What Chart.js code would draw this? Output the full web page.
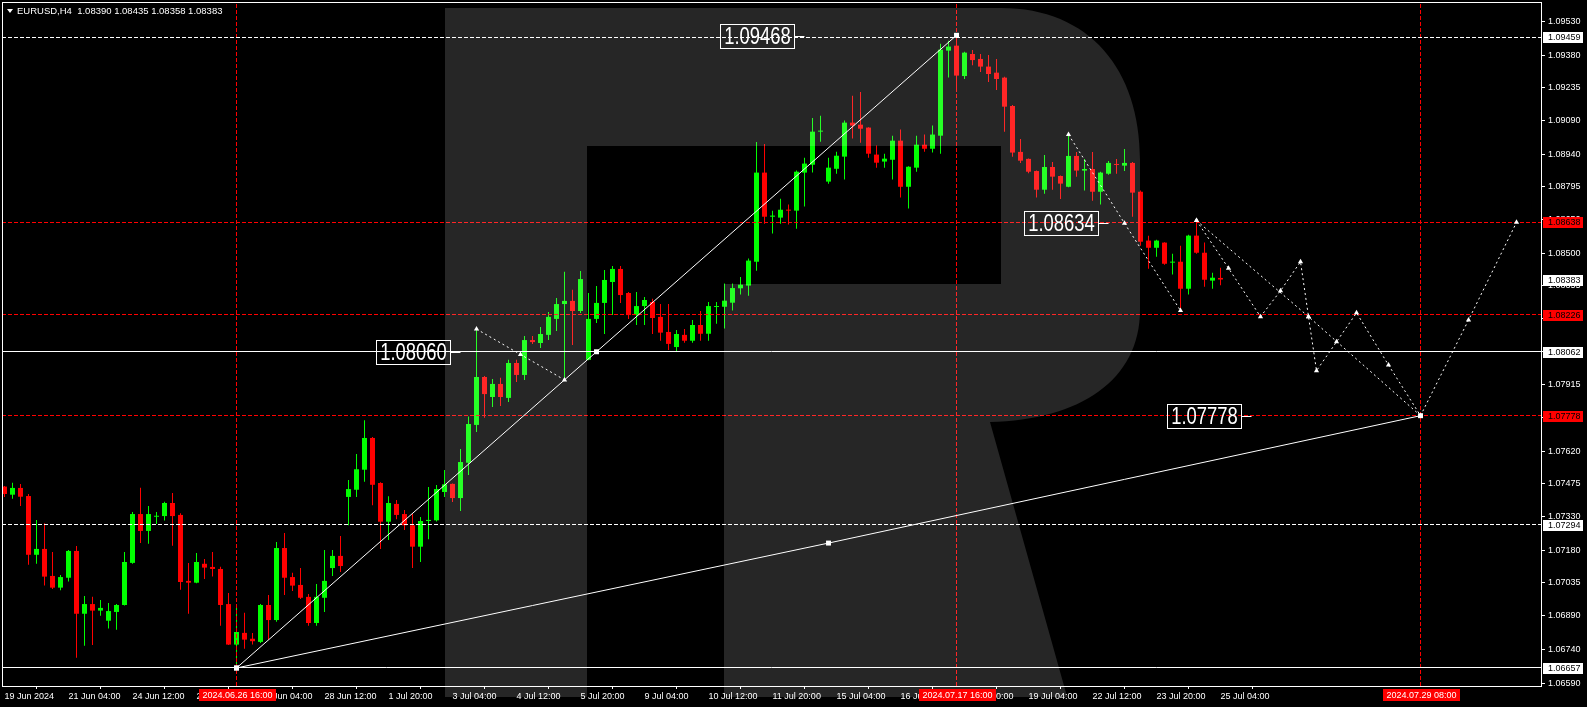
<!DOCTYPE html>
<html>
<head>
<meta charset="utf-8">
<script src="https://cdn.jsdelivr.net/npm/chart.js@4.4.0/dist/chart.umd.min.js"></script>
<style>
  html, body { margin: 0; padding: 0; background: #000; overflow: hidden; }
  #wrap { width: 1587px; height: 707px; }
</style>
</head>
<body>
<div id="wrap"><canvas id="eurusd" width="1587" height="707"></canvas></div>
<script>
// EURUSD H4 candles, index 0 = 19 Jun 20:00
const opens = [1.07463,1.07427,1.07457,1.07421,1.07160,1.07186,1.07066,1.07014,1.07058,1.07177,
  1.06898,1.06941,1.06912,1.06867,1.06906,1.06937,1.07124,1.07341,1.07266,1.07329,
  1.07332,1.07390,1.07337,1.07044,1.07036,1.07120,1.07106,1.07097,1.06941,1.06761,
  1.06813,1.06787,1.06773,1.06937,1.06870,1.07190,1.07061,1.07026,1.06973,1.06857,
  1.06969,1.07101,1.07155,1.07417,1.07449,1.07538,1.07679,1.07479,1.07307,1.07386,
  1.07341,1.07291,1.07196,1.07310,1.07313,1.07439,1.07475,1.07412,1.07569,1.07737,
  1.07950,1.07861,1.07919,1.07857,1.08012,1.07959,1.08114,1.08101,1.08137,1.08208,
  1.08274,1.08288,1.08243,1.08026,1.08208,1.08279,1.08372,1.08430,1.08323,1.08225,
  1.08265,1.08283,1.08217,1.08150,1.08083,1.08137,1.08111,1.08181,1.08142,1.08261,
  1.08262,1.08280,1.08344,1.08356,1.08462,1.08858,1.08662,1.08658,1.08693,1.08689,
  1.08858,1.08893,1.09040,1.08818,1.08875,1.08929,1.09080,1.09071,1.09058,1.08938,
  1.08907,1.08915,1.09000,1.08795,1.08880,1.08982,1.08964,1.09022,1.09400,1.09422,
  1.09287,1.09385,1.09363,1.09329,1.09302,1.09280,1.09154,1.08950,1.08919,1.08865,
  1.08782,1.08883,1.08843,1.08795,1.08932,1.08867,1.08874,1.08773,1.08853,1.08896,
  1.08889,1.08901,1.08773,1.08556,1.08524,1.08547,1.08458,1.08462,1.08342,1.08578,
  1.08502,1.08378,1.08390];
const highs = [1.07466,1.07480,1.07475,1.07430,1.07315,1.07300,1.07172,1.07070,1.07181,1.07199,
  1.06977,1.06973,1.06959,1.06946,1.06941,1.07172,1.07350,1.07458,1.07377,1.07350,
  1.07396,1.07435,1.07344,1.07124,1.07168,1.07141,1.07172,1.07107,1.06990,1.06934,
  1.06903,1.06813,1.06941,1.06981,1.07217,1.07257,1.07080,1.07101,1.06986,1.07030,
  1.07181,1.07181,1.07244,1.07492,1.07608,1.07758,1.07683,1.07482,1.07420,1.07403,
  1.07359,1.07341,1.07328,1.07461,1.07470,1.07537,1.07477,1.07630,1.07774,1.08163,
  1.07954,1.07941,1.07946,1.08026,1.08026,1.08132,1.08132,1.08172,1.08239,1.08301,
  1.08417,1.08337,1.08421,1.08323,1.08354,1.08425,1.08443,1.08443,1.08328,1.08328,
  1.08305,1.08297,1.08274,1.08274,1.08159,1.08163,1.08203,1.08243,1.08283,1.08283,
  1.08365,1.08365,1.08394,1.08476,1.08994,1.08985,1.08689,1.08742,1.08716,1.08867,
  1.08924,1.09101,1.09111,1.08924,1.08951,1.09089,1.09200,1.09216,1.09060,1.08978,
  1.08942,1.09022,1.09049,1.08886,1.09022,1.09027,1.09067,1.09431,1.09444,1.09468,
  1.09395,1.09403,1.09385,1.09381,1.09363,1.09284,1.09158,1.09007,1.08921,1.08867,
  1.08936,1.08905,1.08845,1.09027,1.08950,1.08919,1.08950,1.08862,1.08910,1.08919,
  1.08963,1.08905,1.08778,1.08578,1.08560,1.08549,1.08498,1.08533,1.08582,1.08645,
  1.08547,1.08413,1.08435];
const lows = [1.07417,1.07409,1.07377,1.07116,1.07120,1.07023,1.07008,1.07002,1.07041,1.06703,
  1.06756,1.06759,1.06889,1.06832,1.06827,1.06935,1.07120,1.07212,1.07209,1.07297,
  1.07312,1.07200,1.07005,1.06898,1.07034,1.07052,1.07063,1.06845,1.06759,1.06657,
  1.06743,1.06761,1.06768,1.06783,1.06863,1.06981,1.06999,1.06964,1.06845,1.06845,
  1.06906,1.07066,1.07084,1.07291,1.07417,1.07485,1.07380,1.07186,1.07226,1.07318,
  1.07270,1.07101,1.07128,1.07229,1.07308,1.07417,1.07395,1.07355,1.07515,1.07706,
  1.07769,1.07817,1.07821,1.07839,1.07928,1.07937,1.08097,1.08079,1.08114,1.08154,
  1.07937,1.08092,1.08234,1.08024,1.08190,1.08141,1.08225,1.08279,1.08208,1.08181,
  1.08181,1.08141,1.08111,1.08070,1.08061,1.08102,1.08102,1.08111,1.08111,1.08187,
  1.08165,1.08245,1.08316,1.08311,1.08422,1.08631,1.08587,1.08631,1.08627,1.08609,
  1.08707,1.08858,1.08995,1.08809,1.08853,1.08827,1.09009,1.08991,1.08924,1.08880,
  1.08880,1.08827,1.08747,1.08698,1.08862,1.08951,1.08947,1.08942,1.09280,1.09226,
  1.09274,1.09335,1.09305,1.09261,1.09225,1.09039,1.08929,1.08901,1.08855,1.08747,
  1.08764,1.08782,1.08741,1.08793,1.08840,1.08778,1.08733,1.08716,1.08849,1.08853,
  1.08865,1.08662,1.08533,1.08431,1.08484,1.08449,1.08405,1.08245,1.08316,1.08498,
  1.08351,1.08342,1.08358];
const closes = [1.07430,1.07457,1.07418,1.07160,1.07186,1.07063,1.07014,1.07061,1.07177,1.06898,
  1.06941,1.06912,1.06924,1.06910,1.06937,1.07128,1.07341,1.07266,1.07341,1.07332,
  1.07390,1.07332,1.07039,1.07036,1.07128,1.07103,1.07097,1.06937,1.06761,1.06817,
  1.06783,1.06776,1.06937,1.06870,1.07190,1.07058,1.07023,1.06969,1.06857,1.06973,
  1.07044,1.07155,1.07110,1.07452,1.07540,1.07679,1.07471,1.07307,1.07390,1.07337,
  1.07291,1.07196,1.07310,1.07315,1.07452,1.07473,1.07412,1.07572,1.07741,1.07950,
  1.07874,1.07919,1.07861,1.08012,1.07959,1.08114,1.08105,1.08141,1.08217,1.08274,
  1.08288,1.08243,1.08385,1.08208,1.08279,1.08381,1.08430,1.08314,1.08225,1.08265,
  1.08292,1.08212,1.08147,1.08097,1.08141,1.08111,1.08181,1.08142,1.08265,1.08265,
  1.08289,1.08345,1.08360,1.08467,1.08858,1.08662,1.08667,1.08693,1.08689,1.08862,
  1.08898,1.09040,1.09044,1.08880,1.08933,1.09080,1.09067,1.09053,1.08942,1.08902,
  1.08920,1.09000,1.08795,1.08884,1.08982,1.08964,1.09027,1.09404,1.09418,1.09289,
  1.09391,1.09358,1.09329,1.09296,1.09274,1.09151,1.08947,1.08911,1.08862,1.08782,
  1.08883,1.08840,1.08809,1.08932,1.08867,1.08874,1.08773,1.08858,1.08901,1.08892,
  1.08901,1.08769,1.08551,1.08524,1.08556,1.08453,1.08462,1.08342,1.08578,1.08502,
  1.08382,1.08391,1.08383];

// bottom axis labels, one every 8 bars
const xTickIdx = [0,8,16,24,32,40,48,56,64,72,80,88,96,104,112,120,128,136,144,152];
const xTickLabels = ['19 Jun 2024','21 Jun 04:00','24 Jun 12:00','25 Jun 20:00','27 Jun 04:00',
  '28 Jun 12:00','1 Jul 20:00','3 Jul 04:00','4 Jul 12:00','5 Jul 20:00','9 Jul 04:00',
  '10 Jul 12:00','11 Jul 20:00','15 Jul 04:00','16 Jul 12:00','17 Jul 20:00','19 Jul 04:00',
  '22 Jul 12:00','23 Jul 20:00','25 Jul 04:00'];
const yTicks = [1.09530,1.09380,1.09235,1.09090,1.08940,1.08795,1.08650,1.08500,1.08355,1.08210,
  1.08065,1.07915,1.07770,1.07620,1.07475,1.07330,1.07180,1.07035,1.06890,1.06740,1.06590];

// horizontal levels
const levelsWhiteDash = [1.09459, 1.07294];
const levelsWhite = [1.08062, 1.06657];
const levelsRed = [1.08638, 1.08226, 1.07778];
// vertical markers (bar index) and their dates
const vLineIdx = [29, 119, 177];
const vLineLabels = ['2024.06.26 16:00', '2024.07.17 16:00', '2024.07.29 08:00'];

// trend lines [bar index, price]
const trendUp = [[29, 1.06657], [74, 1.08062], [119, 1.09468]];
const trendLong = [[29, 1.06657], [103, 1.07212], [177, 1.07778]];
// dotted wave paths
const waveA = [[59, 1.08163], [64.5, 1.08050], [70, 1.07937]];
const waveB = [[133, 1.09027], [140, 1.08633], [147, 1.08245]];
const waveC = [[149, 1.08645], [153, 1.08433], [157, 1.08218], [159.5, 1.08333], [162, 1.08462],
  [163, 1.08218], [164, 1.07978], [166.5, 1.08106], [169, 1.08235], [173, 1.08003],
  [177, 1.07778], [183, 1.08203], [189, 1.08637]];
const waveD = [[149, 1.08645], [163, 1.08218], [177, 1.07778]];

// price tags on the right axis
const axisTags = [
  [1.09459, 'w'], [1.08638, 'r'], [1.08383, 'w'], [1.08226, 'r'],
  [1.08062, 'w'], [1.07778, 'r'], [1.07294, 'w'], [1.06657, 'w']
];

const X_MIN = -0.3125, X_MAX = 192.06;
const Y_MIN = 1.06577, Y_MAX = 1.09616;
const GREEN = '#00ff00', RED = '#ff0000', WHITE = '#ffffff';
const FONT = '"Liberation Sans", Arial, sans-serif';

const pts = arr => arr.map(p => ({ x: p[0], y: p[1] }));
const candleColors = closes.map((c, i) => (c >= opens[i] ? GREEN : RED));

const datasets = [];
const lineBase = { type: 'line', borderWidth: 1, pointRadius: 0, fill: false, tension: 0 };

datasets.push({ ...lineBase, data: pts(trendUp), borderColor: WHITE,
  pointRadius: 3.5, pointStyle: 'rect', pointBackgroundColor: WHITE, pointBorderWidth: 0 });
datasets.push({ ...lineBase, data: pts(trendLong), borderColor: WHITE,
  pointRadius: 3.5, pointStyle: 'rect', pointBackgroundColor: WHITE, pointBorderWidth: 0 });
[waveA, waveB, waveC, waveD].forEach(w => {
  datasets.push({ ...lineBase, data: pts(w), borderColor: WHITE, borderDash: [2, 3],
    pointRadius: 3, pointStyle: 'triangle', pointBackgroundColor: WHITE, pointBorderWidth: 0 });
});
levelsWhiteDash.forEach(v => datasets.push({ ...lineBase, snapY: v,
  data: [{ x: X_MIN, y: v }, { x: X_MAX, y: v }], borderColor: WHITE, borderDash: [4, 2] }));
levelsWhite.forEach(v => datasets.push({ ...lineBase, snapY: v,
  data: [{ x: X_MIN, y: v }, { x: X_MAX, y: v }], borderColor: WHITE }));
levelsRed.forEach(v => datasets.push({ ...lineBase, snapY: v,
  data: [{ x: X_MIN, y: v }, { x: X_MAX, y: v }], borderColor: RED, borderDash: [4, 2] }));
vLineIdx.forEach(i => datasets.push({ ...lineBase, data: [{ x: i, y: Y_MIN }, { x: i, y: Y_MAX }],
  borderColor: RED, borderDash: [4, 2] }));

// candle bodies and wicks
datasets.push({ type: 'bar', data: opens.map((o, i) => ({ x: i, y: [o, closes[i]] })),
  backgroundColor: candleColors, barThickness: 5, grouped: false, minBarLength: 1,
  borderWidth: 0, inflateAmount: 0 });
datasets.push({ type: 'bar', data: lows.map((l, i) => ({ x: i, y: [l, highs[i]] })),
  backgroundColor: candleColors, barThickness: 1, grouped: false, minBarLength: 1,
  borderWidth: 0, inflateAmount: 0 });

// big text boxes: right edge at bar index, centred on price
const bigLabels = [
  { text: '1.09468', at: 98.65, v: 1.09467 },
  { text: '1.08060', at: 55.65, v: 1.08060 },
  { text: '1.08634', at: 136.65, v: 1.08634 },
  { text: '1.07778', at: 154.56, v: 1.07778 }
];

function drawLogo(ctx) {
  ctx.save();
  ctx.beginPath();
  ctx.rect(0, 0, 1587, 697);
  ctx.clip();
  ctx.beginPath();
  ctx.moveTo(445, 8);
  ctx.lineTo(1001, 8);
  ctx.bezierCurveTo(1090, 8, 1140, 70, 1140, 160);
  ctx.lineTo(1140, 310);
  ctx.bezierCurveTo(1140, 380, 1080, 420, 990, 422);
  ctx.lineTo(1068, 700);
  ctx.lineTo(724, 700);
  ctx.lineTo(724, 284);
  ctx.lineTo(1001, 284);
  ctx.lineTo(1001, 146);
  ctx.lineTo(587, 146);
  ctx.lineTo(587, 700);
  ctx.lineTo(445, 700);
  ctx.closePath();
  ctx.fillStyle = 'rgba(255,255,255,0.15)';
  ctx.fill();
  ctx.restore();
}

// no extra room for edge labels, the plot runs to the frame
const noPad = s => { s.paddingLeft = 0; s.paddingRight = 0; s.paddingTop = 0; s.paddingBottom = 0; };

const decor = {
  id: 'decor',
  // keep flat level lines on whole pixel rows so they stay sharp
  beforeDatasetDraw(chart, args) {
    const ds = chart.data.datasets[args.index];
    if (ds.snapY === undefined) return;
    const y = chart.scales.y.getPixelForValue(ds.snapY);
    chart.ctx.save();
    chart.ctx.translate(0, Math.floor(y) + 0.5 - y);
  },
  afterDatasetDraw(chart, args) {
    const ds = chart.data.datasets[args.index];
    if (ds.snapY === undefined) return;
    chart.ctx.restore();
  },
  afterDatasetsDraw(chart) {
    drawLogo(chart.ctx);
  },
  afterDraw(chart) {
    const ctx = chart.ctx;
    const xs = chart.scales.x, ys = chart.scales.y;
    const a = chart.chartArea;
    ctx.save();
    // frame
    ctx.strokeStyle = WHITE;
    ctx.lineWidth = 1;
    ctx.strokeRect(Math.floor(a.left) + 0.5, Math.floor(a.top) + 0.5,
      Math.round(a.right - a.left), Math.round(a.bottom - a.top));

    // big labels
    bigLabels.forEach(l => {
      const r = Math.round(xs.getPixelForValue(l.at)) + 0.5;
      const cy = Math.round(ys.getPixelForValue(l.v)) + 0.5;
      const w = 74, h = 24;
      ctx.strokeStyle = WHITE;
      ctx.strokeRect(r - w, cy - h / 2, w, h);
      ctx.beginPath();
      ctx.moveTo(r, cy);
      ctx.lineTo(r + 10, cy);
      ctx.stroke();
      ctx.save();
      ctx.translate(r - w / 2, cy + 1);
      ctx.scale(0.8, 1);
      ctx.font = '23px ' + FONT;
      ctx.fillStyle = WHITE;
      ctx.textAlign = 'center';
      ctx.textBaseline = 'middle';
      ctx.fillText(l.text, 0, 0);
      ctx.restore();
    });

    // right axis price tags
    ctx.font = '9px ' + FONT;
    ctx.textBaseline = 'middle';
    ctx.textAlign = 'left';
    axisTags.forEach(t => {
      const y = Math.round(ys.getPixelForValue(t[0]));
      ctx.fillStyle = t[1] === 'r' ? RED : WHITE;
      ctx.fillRect(a.right + 2, y - 5, 40, 11);
      ctx.fillStyle = '#000';
      ctx.fillText(t[0].toFixed(5), a.right + 7, y + 0.5);
    });

    // bottom date tags for the vertical lines
    ctx.textAlign = 'center';
    vLineIdx.forEach((i, k) => {
      const x = Math.round(xs.getPixelForValue(i));
      ctx.fillStyle = RED;
      ctx.fillRect(x - 38, a.bottom + 3, 77, 12);
      ctx.fillStyle = WHITE;
      ctx.fillText(vLineLabels[k], x + 0.5, a.bottom + 9.5);
    });

    // header
    ctx.fillStyle = WHITE;
    ctx.beginPath();
    ctx.moveTo(7, 9);
    ctx.lineTo(13, 9);
    ctx.lineTo(10, 13);
    ctx.closePath();
    ctx.fill();
    ctx.textAlign = 'left';
    ctx.font = '9.5px ' + FONT;
    ctx.fillText('EURUSD,H4  1.08390 1.08435 1.08358 1.08383', 17, 11);
    ctx.restore();
  }
};

Chart.defaults.font.family = FONT;

new Chart(document.getElementById('eurusd'), {
  type: 'bar',
  data: { datasets: datasets },
  options: {
    responsive: false,
    animation: false,
    events: [],
    layout: { autoPadding: false, padding: { left: 2, top: 2, right: 0, bottom: 0 } },
    plugins: { legend: { display: false }, tooltip: { enabled: false } },
    scales: {
      x: {
        type: 'linear',
        min: X_MIN,
        max: X_MAX,
        offset: false,
        grid: { drawOnChartArea: false, drawTicks: true, tickLength: 3, color: WHITE },
        border: { display: false },
        ticks: {
          color: WHITE,
          font: { size: 9 },
          align: 'start',
          maxRotation: 0,
          autoSkip: false,
          padding: 2,
          callback: (v, idx) => xTickLabels[idx]
        },
        afterBuildTicks: s => { s.ticks = xTickIdx.map(v => ({ value: v })); },
        afterFit: s => { s.height = 21; noPad(s); }
      },
      y: {
        type: 'linear',
        position: 'right',
        min: Y_MIN,
        max: Y_MAX,
        grid: { drawOnChartArea: false, drawTicks: true, tickLength: 4, color: WHITE },
        border: { display: false },
        ticks: {
          color: WHITE,
          font: { size: 9 },
          padding: 3,
          autoSkip: false,
          callback: v => Number(v).toFixed(5)
        },
        afterBuildTicks: s => { s.ticks = yTicks.map(v => ({ value: v })); },
        afterFit: s => { s.width = 46; noPad(s); }
      }
    }
  },
  plugins: [decor]
});
</script>
</body>
</html>
